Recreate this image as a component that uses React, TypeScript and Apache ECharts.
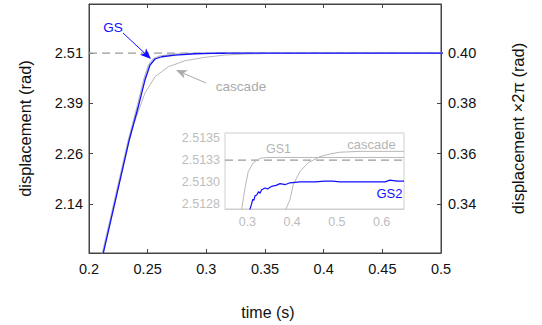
import React, { useEffect, useRef } from "react";
import * as echarts from "echarts";

const TWO_PI = 2 * Math.PI;
const FONT = "'Liberation Sans', Arial, Helvetica, sans-serif";

// axis ticks
const rightTicks = [0.34, 0.36, 0.38, 0.4];
const leftTicks = rightTicks.map((v) => v * TWO_PI);
const insetXTicks = [0.3, 0.4, 0.5, 0.6];
const insetYTicks = [2.51275, 2.513, 2.51325, 2.5135];
const insetYLabels = ["2.5128", "2.5130", "2.5133", "2.5135"];
const target = 2.51325;

// GS / GS2 (blue)
const gs2Time = [
  0.208, 0.2122, 0.223, 0.2343, 0.242, 0.2477, 0.252, 0.2563, 0.262, 0.2733, 0.2903,
  0.3047, 0.3059, 0.309, 0.3119, 0.3145, 0.317, 0.321, 0.325, 0.3282, 0.332, 0.3394,
  0.345, 0.3544, 0.364, 0.3729, 0.385, 0.3953, 0.4176, 0.4511, 0.4735, 0.4913, 0.507,
  0.5517, 0.6076, 0.6187, 0.6344, 0.65,
];
const gs2Value = [
  1.9603, 2.0139, 2.1513, 2.2961, 2.3792, 2.4458, 2.4833, 2.4984, 2.504, 2.5083, 2.5115,
  2.51262, 2.51269, 2.51274, 2.5128, 2.51279, 2.51284, 2.51285, 2.51289, 2.51287, 2.51291, 2.51293,
  2.51292, 2.51295, 2.51296, 2.51298, 2.51297, 2.51299, 2.513, 2.513, 2.51301, 2.51301, 2.513,
  2.513, 2.513, 2.51302, 2.51301, 2.51301,
];

// GS1 (grey)
const gs1Time = [
  0.2072, 0.2114, 0.2222, 0.2335, 0.241, 0.2465, 0.2507, 0.2548, 0.26, 0.27, 0.28,
  0.2846, 0.2873, 0.2947, 0.3021, 0.3132, 0.3282, 0.3432, 0.4176, 0.65,
];
const gs1Value = [
  1.9603, 2.0139, 2.1513, 2.2961, 2.3792, 2.4458, 2.4833, 2.499, 2.5055, 2.5098, 2.5118,
  2.51245, 2.51269, 2.51293, 2.51312, 2.51322, 2.51327, 2.51328, 2.51328, 2.51328,
];

// cascade (grey)
const cascadeTime = [
  0.208, 0.2122, 0.223, 0.2343, 0.238, 0.2477, 0.2563, 0.2676, 0.2818, 0.2989, 0.3159,
  0.333, 0.3542, 0.383, 0.3863, 0.3953, 0.4026, 0.4176, 0.4361, 0.4623, 0.4846, 0.507,
  0.5517, 0.65,
];
const cascadeValue = [
  1.9603, 2.0139, 2.1513, 2.2961, 2.335, 2.4134, 2.4541, 2.4791, 2.4941, 2.5026, 2.5083,
  2.5108, 2.5122, 2.51256, 2.51269, 2.5128, 2.51297, 2.51312, 2.51322, 2.51329, 2.51332, 2.51334,
  2.51335, 2.51335,
];

const zip = (t: number[], v: number[]) => t.map((x, i) => [x, v[i]]);

const BLUE = "#1010ff";
const GREY = "#b8b8b8";
const FRAME = "#444";
const INSET_FRAME = "#cfcfcf";
const INSET_TEXT = "#bdbdbd";

export default function App() {
  const ref = useRef<HTMLDivElement>(null);
  useEffect(() => {
    if (!ref.current) return;
    const chart = echarts.init(ref.current, null, { renderer: "svg" });
    const mainY = { min: 0.3205 * TWO_PI, max: 0.4195 * TWO_PI };
    const lineSeries = (name: string, data: number[][], color: string, width: number, xi: number, yi: number, z = 2) => ({
      name,
      type: "line",
      xAxisIndex: xi,
      yAxisIndex: yi,
      data,
      symbol: "none",
      clip: true,
      z,
      lineStyle: { color, width },
    });
    const dashed = (xi: number, yi: number, x0: number, x1: number) => ({
      name: "target",
      type: "line",
      xAxisIndex: xi,
      yAxisIndex: yi,
      data: [
        [x0, target],
        [x1, target],
      ],
      symbol: "none",
      z: 1,
      lineStyle: { color: "#9a9a9a", width: 1.2, type: [8, 5] },
    });
    chart.setOption({
      animation: false,
      backgroundColor: "#fff",
      textStyle: { fontFamily: FONT },
      grid: [
        {
          left: 89, top: 4, width: 352, height: 249,
          show: true, borderColor: FRAME, borderWidth: 1, backgroundColor: "transparent",
          outerBoundsMode: "none",
        },
        {
          left: 225, top: 133, width: 179, height: 76,
          show: true, borderColor: INSET_FRAME, borderWidth: 1, backgroundColor: "#fff",
          outerBoundsMode: "none", z: 3,
        },
      ],
      xAxis: [
        {
          gridIndex: 0, type: "value", min: 0.2, max: 0.5, interval: 0.05, position: "bottom",
          axisLine: { show: true, lineStyle: { color: FRAME } },
          axisTick: { show: true, inside: true, length: 4, lineStyle: { color: FRAME } },
          axisLabel: { margin: 8, fontSize: 14.5, color: "#111", fontFamily: FONT, showMinLabel: true, showMaxLabel: true },
          splitLine: { show: false },
          name: "time (s)", nameLocation: "middle", nameGap: 51,
          nameTextStyle: { fontSize: 16, color: "#111", fontFamily: FONT, padding: [0, 0, 0, 6] },
        },
        {
          gridIndex: 0, type: "value", min: 0.2, max: 0.5, interval: 0.05, position: "top",
          axisLine: { show: true, lineStyle: { color: FRAME } },
          axisTick: { show: true, inside: true, length: 4, lineStyle: { color: FRAME } },
          axisLabel: { show: false },
          splitLine: { show: false },
        },
        {
          gridIndex: 1, type: "value", min: 0.25, max: 0.65, position: "bottom",
          axisLine: { show: true, lineStyle: { color: INSET_FRAME } },
          axisTick: { show: true, inside: true, length: 3, customValues: insetXTicks, lineStyle: { color: "#aaa" } },
          axisLabel: {
            customValues: insetXTicks, margin: 6, fontSize: 12.5, color: INSET_TEXT, fontFamily: FONT,
            formatter: (v: number) => v.toFixed(1),
          },
          splitLine: { show: false },
        },
      ],
      yAxis: [
        {
          gridIndex: 0, type: "value", ...mainY, position: "left",
          axisLine: { show: true, lineStyle: { color: FRAME } },
          axisTick: { show: true, inside: true, length: 4, customValues: leftTicks, lineStyle: { color: FRAME } },
          axisLabel: {
            customValues: leftTicks, margin: 6, fontSize: 14.5, color: "#111", fontFamily: FONT,
            formatter: (v: number) => v.toFixed(2),
          },
          splitLine: { show: false },
          name: "displacement (rad)", nameLocation: "middle", nameRotate: 90, nameGap: 56,
          nameTextStyle: { fontSize: 16.5, color: "#111", fontFamily: FONT },
        },
        {
          gridIndex: 0, type: "value", min: 0.3205, max: 0.4195, position: "right",
          axisLine: { show: true, lineStyle: { color: FRAME } },
          axisTick: { show: true, inside: true, length: 4, customValues: rightTicks, lineStyle: { color: FRAME } },
          axisLabel: {
            customValues: rightTicks, margin: 7, fontSize: 14.5, color: "#111", fontFamily: FONT,
            formatter: (v: number) => v.toFixed(2),
          },
          splitLine: { show: false },
          name: "displacement ×2π (rad)", nameLocation: "middle", nameRotate: 90, nameGap: 68,
          nameTextStyle: { fontSize: 16.5, color: "#111", fontFamily: FONT },
        },
        {
          gridIndex: 1, type: "value", min: 2.51269, max: 2.51356, position: "left",
          axisLine: { show: true, lineStyle: { color: INSET_FRAME } },
          axisTick: { show: true, inside: true, length: 3, customValues: insetYTicks, lineStyle: { color: "#aaa" } },
          axisLabel: {
            customValues: insetYTicks, margin: 5, fontSize: 12.5, color: INSET_TEXT, fontFamily: FONT,
            formatter: (v: number) => {
              let best = 0;
              insetYTicks.forEach((t, i) => {
                if (Math.abs(t - v) < Math.abs(insetYTicks[best] - v)) best = i;
              });
              return insetYLabels[best];
            },
          },
          splitLine: { show: false },
        },
      ],
      series: [
        dashed(0, 0, 0.2, 0.5),
        lineSeries("cascade", zip(cascadeTime, cascadeValue), GREY, 1, 0, 0),
        lineSeries("GS1", zip(gs1Time, gs1Value), GREY, 1.2, 0, 0),
        lineSeries("GS", zip(gs2Time, gs2Value), BLUE, 1.3, 0, 0, 3),
        { ...dashed(2, 2, 0.25, 0.65), z: 4 },
        lineSeries("cascade inset", zip(cascadeTime, cascadeValue), GREY, 1, 2, 2, 4),
        lineSeries("GS1 inset", zip(gs1Time, gs1Value), GREY, 1, 2, 2, 4),
        lineSeries("GS2 inset", zip(gs2Time, gs2Value), BLUE, 1.2, 2, 2, 5),
      ],
      graphic: [
        { type: "text", z: 100, x: 113, y: 27, style: { text: "GS", fill: BLUE, font: `13.5px ${FONT}`, align: "center", verticalAlign: "middle" } },
        { type: "line", z: 100, shape: { x1: 123, y1: 33, x2: 145, y2: 53.5 }, style: { stroke: BLUE, lineWidth: 1 } },
        { type: "polygon", z: 100, shape: { points: [[151, 59], [139.9, 54.8], [145.1, 53.5], [146.0, 48.2]] }, style: { fill: BLUE } },
        { type: "text", z: 100, x: 241, y: 86, style: { text: "cascade", fill: "#aaaaaa", font: `13.5px ${FONT}`, align: "center", verticalAlign: "middle" } },
        { type: "line", z: 100, shape: { x1: 206, y1: 83, x2: 183.5, y2: 73.3 }, style: { stroke: "#aaaaaa", lineWidth: 1 } },
        { type: "polygon", z: 100, shape: { points: [[176, 70], [187.9, 70.2], [183.3, 73.2], [184.3, 78.5]] }, style: { fill: "#aaaaaa" } },
        { type: "text", z: 100, x: 278.5, y: 148.5, style: { text: "GS1", fill: "#b5b5b5", font: `12.5px ${FONT}`, align: "center", verticalAlign: "middle" } },
        { type: "text", z: 100, x: 371.5, y: 144.5, style: { text: "cascade", fill: "#b5b5b5", font: `13px ${FONT}`, align: "center", verticalAlign: "middle" } },
        { type: "text", z: 100, x: 389.5, y: 193, style: { text: "GS2", fill: BLUE, font: `13px ${FONT}`, align: "center", verticalAlign: "middle" } },
      ],
    });
    return () => chart.dispose();
  }, []);
  return <div ref={ref} style={{ position: "absolute", left: 0, top: 0, width: 542, height: 325 }} />;
}
